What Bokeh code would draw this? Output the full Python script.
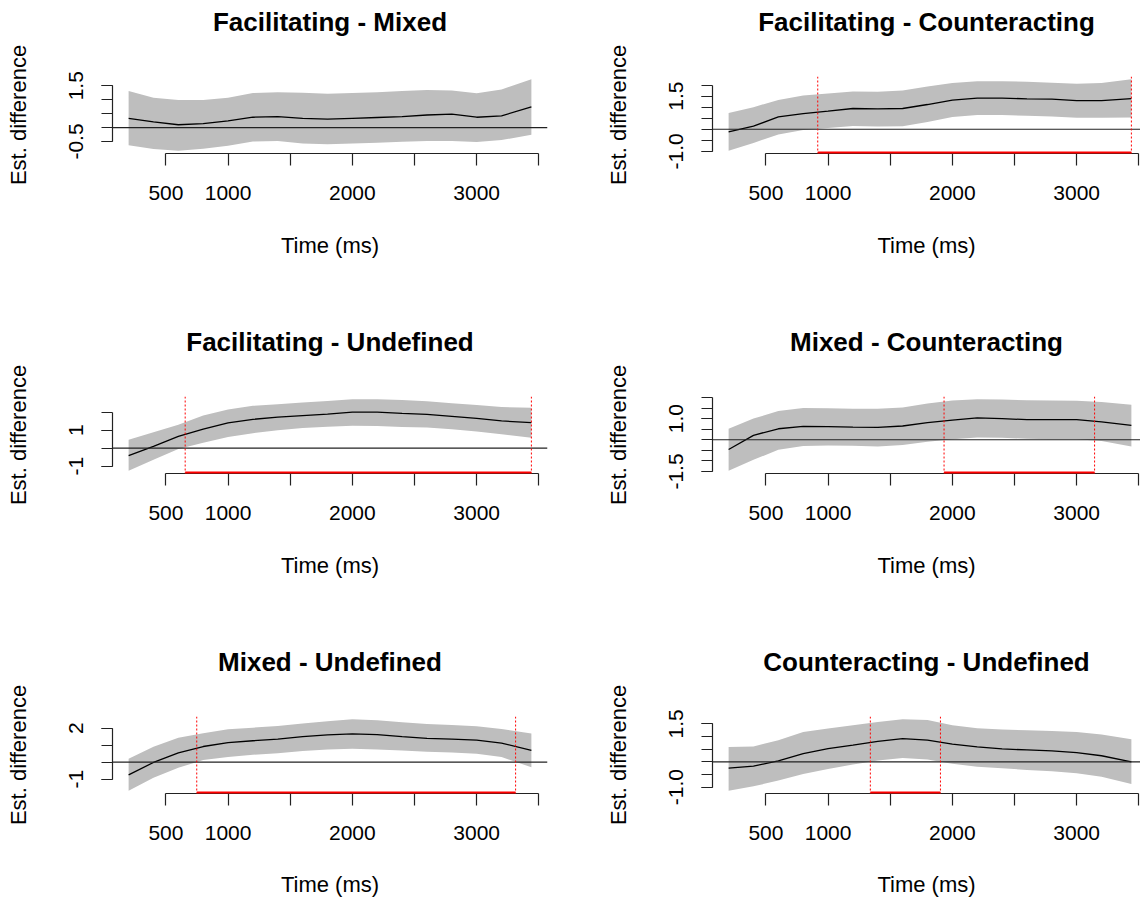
from bokeh.plotting import figure
from bokeh.models import FixedTicker, Span, Arrow, Title, Range1d, PrintfTickFormatter
from bokeh.layouts import row, column
from bokeh.embed import file_html
from bokeh.resources import INLINE

FONT = "Liberation Sans"

# ---------------- data ----------------
time_ms = [200, 400, 600, 800, 1000, 1200, 1400, 1600, 1800, 2000,
           2200, 2400, 2600, 2800, 3000, 3200, 3440]

titles = ["Facilitating - Mixed", "Facilitating - Counteracting",
          "Facilitating - Undefined", "Mixed - Counteracting",
          "Mixed - Undefined", "Counteracting - Undefined"]
x_label = "Time (ms)"
y_label = "Est. difference"

fac_mix_fit = [0.33, 0.20, 0.10, 0.14, 0.24, 0.37, 0.39, 0.33, 0.30, 0.33, 0.36, 0.39, 0.45, 0.48, 0.37, 0.42, 0.74]
fac_mix_hi = [1.31, 1.07, 0.99, 0.99, 1.07, 1.24, 1.27, 1.25, 1.21, 1.24, 1.27, 1.31, 1.35, 1.33, 1.23, 1.37, 1.73]
fac_mix_lo = [-0.64, -0.77, -0.83, -0.76, -0.65, -0.50, -0.48, -0.57, -0.60, -0.57, -0.55, -0.51, -0.48, -0.48, -0.52, -0.45, -0.26]

fac_cnt_fit = [-0.12, 0.14, 0.56, 0.71, 0.82, 0.94, 0.92, 0.94, 1.12, 1.32, 1.41, 1.41, 1.38, 1.36, 1.30, 1.30, 1.39]
fac_cnt_hi = [0.74, 1.00, 1.33, 1.53, 1.62, 1.71, 1.70, 1.76, 1.94, 2.09, 2.17, 2.17, 2.15, 2.11, 2.06, 2.09, 2.26]
fac_cnt_lo = [-0.97, -0.62, -0.24, -0.03, 0.06, 0.15, 0.12, 0.14, 0.33, 0.55, 0.65, 0.65, 0.61, 0.58, 0.52, 0.52, 0.53]

fac_und_fit = [-0.41, 0.10, 0.65, 1.05, 1.40, 1.60, 1.72, 1.81, 1.89, 2.00, 2.00, 1.93, 1.87, 1.77, 1.65, 1.51, 1.42]
fac_und_hi = [0.47, 0.88, 1.30, 1.82, 2.15, 2.35, 2.44, 2.53, 2.62, 2.71, 2.71, 2.67, 2.60, 2.49, 2.39, 2.28, 2.24]
fac_und_lo = [-1.25, -0.65, -0.05, 0.30, 0.62, 0.83, 0.99, 1.12, 1.19, 1.25, 1.23, 1.18, 1.14, 1.05, 0.93, 0.77, 0.58]

mix_cnt_fit = [-0.46, 0.21, 0.52, 0.63, 0.62, 0.60, 0.59, 0.65, 0.81, 0.93, 1.03, 1.00, 0.95, 0.95, 0.95, 0.85, 0.68]
mix_cnt_hi = [0.52, 1.00, 1.36, 1.50, 1.49, 1.47, 1.46, 1.52, 1.71, 1.85, 1.91, 1.90, 1.87, 1.85, 1.84, 1.79, 1.66]
mix_cnt_lo = [-1.46, -0.95, -0.47, -0.30, -0.27, -0.28, -0.32, -0.25, -0.09, 0.03, 0.11, 0.09, 0.05, 0.03, 0.03, -0.06, -0.32]

mix_und_fit = [-0.75, -0.02, 0.55, 0.92, 1.15, 1.26, 1.36, 1.50, 1.60, 1.66, 1.62, 1.50, 1.40, 1.36, 1.30, 1.12, 0.69]
mix_und_hi = [0.20, 0.90, 1.43, 1.70, 1.93, 2.03, 2.13, 2.27, 2.41, 2.52, 2.47, 2.35, 2.25, 2.19, 2.11, 1.95, 1.68]
mix_und_lo = [-1.68, -0.92, -0.33, 0.12, 0.30, 0.43, 0.53, 0.65, 0.75, 0.79, 0.75, 0.69, 0.61, 0.57, 0.49, 0.30, -0.30]

cnt_und_fit = [-0.25, -0.17, 0.04, 0.32, 0.52, 0.66, 0.81, 0.92, 0.86, 0.70, 0.59, 0.51, 0.47, 0.43, 0.36, 0.24, 0.00]
cnt_und_hi = [0.59, 0.61, 0.85, 1.18, 1.32, 1.45, 1.58, 1.68, 1.65, 1.45, 1.33, 1.28, 1.25, 1.22, 1.18, 1.08, 0.89]
cnt_und_lo = [-1.14, -0.97, -0.74, -0.48, -0.28, -0.11, 0.05, 0.15, 0.09, -0.08, -0.19, -0.25, -0.32, -0.37, -0.45, -0.59, -0.88]

# significant windows (ms); None = no window
sig_windows = [None, (917, 3440), (655, 3440), (1933, 3144), (748, 3313), (1340, 1904)]

# x axis ticks
x_ticks_labelled = [500, 1000, 2000, 3000]
x_ticks_other = [1500, 2500, 3500]

# y axis ticks per panel: (labelled, all, format)
y_ticks = [
    ([-0.5, 1.5], [-0.5, 0.0, 0.5, 1.0, 1.5], "%.1f"),
    ([-1.0, 1.5], [-1.0, -0.5, 0.0, 0.5, 1.0, 1.5, 2.0], "%.1f"),
    ([-1, 1], [-1, 0, 1, 2], "%d"),
    ([-1.5, 1.0], [-1.5, -1.0, -0.5, 0.0, 0.5, 1.0, 1.5, 2.0], "%.1f"),
    ([-1, 2], [-1, 0, 1, 2], "%d"),
    ([-1.0, 1.5], [-1.0, -0.5, 0.0, 0.5, 1.0, 1.5], "%.1f"),
]

series = [
    (fac_mix_fit, fac_mix_lo, fac_mix_hi),
    (fac_cnt_fit, fac_cnt_lo, fac_cnt_hi),
    (fac_und_fit, fac_und_lo, fac_und_hi),
    (mix_cnt_fit, mix_cnt_lo, mix_cnt_hi),
    (mix_und_fit, mix_und_lo, mix_und_hi),
    (cnt_und_fit, cnt_und_lo, cnt_und_hi),
]

# ---------------- layout ----------------
COL_W = [600, 540]
ROW_H = [320, 320, 261]
BORDER_TOP = 76
FRAME_H = 77
BORDER_L = 112
BORDER_R0 = 53
FW_LEFT = COL_W[0] - BORDER_L - BORDER_R0


def make_panel(i):
    r, c = divmod(i, 2)
    fit, lo, hi = series[i]
    width, height = COL_W[c], ROW_H[r]
    bottom = height - BORDER_TOP - FRAME_H
    x0, x1 = time_ms[0], time_ms[-1]
    xpad = 0.04 * (x1 - x0)
    xs, xe = x0 - xpad, x1 + xpad
    if c == 1:
        fw = width - BORDER_L
        xe = xs + (xe - xs) * fw / FW_LEFT
    ylo, yhi = min(lo), max(hi)
    ypad = 0.04 * (yhi - ylo)
    ys, ye = ylo - ypad, yhi + ypad

    p = figure(width=width, height=height,
               x_range=Range1d(xs, xe), y_range=Range1d(ys, ye),
               min_border_left=BORDER_L, min_border_right=(BORDER_R0 if c == 0 else 0),
               min_border_top=BORDER_TOP, min_border_bottom=bottom,
               toolbar_location=None, output_backend="svg")
    p.outline_line_color = None
    p.xgrid.visible = False
    p.ygrid.visible = False
    p.background_fill_color = "white"
    p.border_fill_color = "white"

    # spacer (closest to the frame) then the real title above it
    p.add_layout(Title(text=" ", text_font_size="10px", standoff=27), "above")
    p.add_layout(Title(text=titles[i], align="center", vertical_align="bottom", standoff=0,
                       text_font=FONT, text_font_size="26px", text_font_style="bold",
                       text_color="black"), "above")

    # band + fit
    p.varea(x=time_ms, y1=lo, y2=hi, fill_color="#BEBEBE", fill_alpha=1.0)
    p.line(x=time_ms, y=fit, line_color="black", line_width=1.3)

    p.add_layout(Span(location=0, dimension="width", line_color="#222222", line_width=1.2))

    sig = sig_windows[i]
    if sig is not None:
        for loc in sig:
            p.add_layout(Span(location=loc, dimension="height", line_color="red",
                              line_width=1, line_dash="2 2"))
        p.add_layout(Arrow(start=None, end=None, x_start=sig[0], y_start=ys,
                           x_end=sig[1], y_end=ys, line_color="red", line_width=4))

    # axes styling
    xa = p.xaxis[0]
    ya = p.yaxis[0]
    for ax in (xa, ya):
        ax.axis_line_color = "#222222"
        ax.axis_line_width = 1.2
        ax.major_tick_line_color = "#222222"
        ax.minor_tick_line_color = "#222222"
        ax.major_tick_line_width = 1.2
        ax.minor_tick_line_width = 1.2
        ax.major_tick_in = 0
        ax.minor_tick_in = 0
        ax.major_label_text_font = FONT
        ax.major_label_text_font_size = "21px"
        ax.major_label_text_color = "black"
        ax.axis_label_text_font = FONT
        ax.axis_label_text_font_size = "22px"
        ax.axis_label_text_font_style = "normal"
        ax.axis_label_text_color = "black"

    xa.ticker = FixedTicker(ticks=x_ticks_labelled, minor_ticks=x_ticks_other)
    xa.bounds = (500, 3500)
    xa.major_tick_out = 12
    xa.minor_tick_out = 12
    xa.major_label_standoff = 20
    xa.axis_label = x_label
    xa.axis_label_standoff = 30 if r < 2 else 29

    lab, allt, fmt = y_ticks[i]
    ya.ticker = FixedTicker(ticks=lab, minor_ticks=allt)
    ya.bounds = (min(allt), max(allt))
    ya.formatter = PrintfTickFormatter(format=fmt)
    ya.major_tick_out = 11
    ya.minor_tick_out = 11
    ya.major_label_orientation = "parallel"
    ya.major_label_standoff = 18
    ya.axis_label = y_label
    ya.axis_label_standoff = 36
    return p


panels = [make_panel(i) for i in range(6)]
layout = column(row(panels[0], panels[1]), row(panels[2], panels[3]), row(panels[4], panels[5]))

open("out.html", "w").write(file_html(layout, INLINE))
